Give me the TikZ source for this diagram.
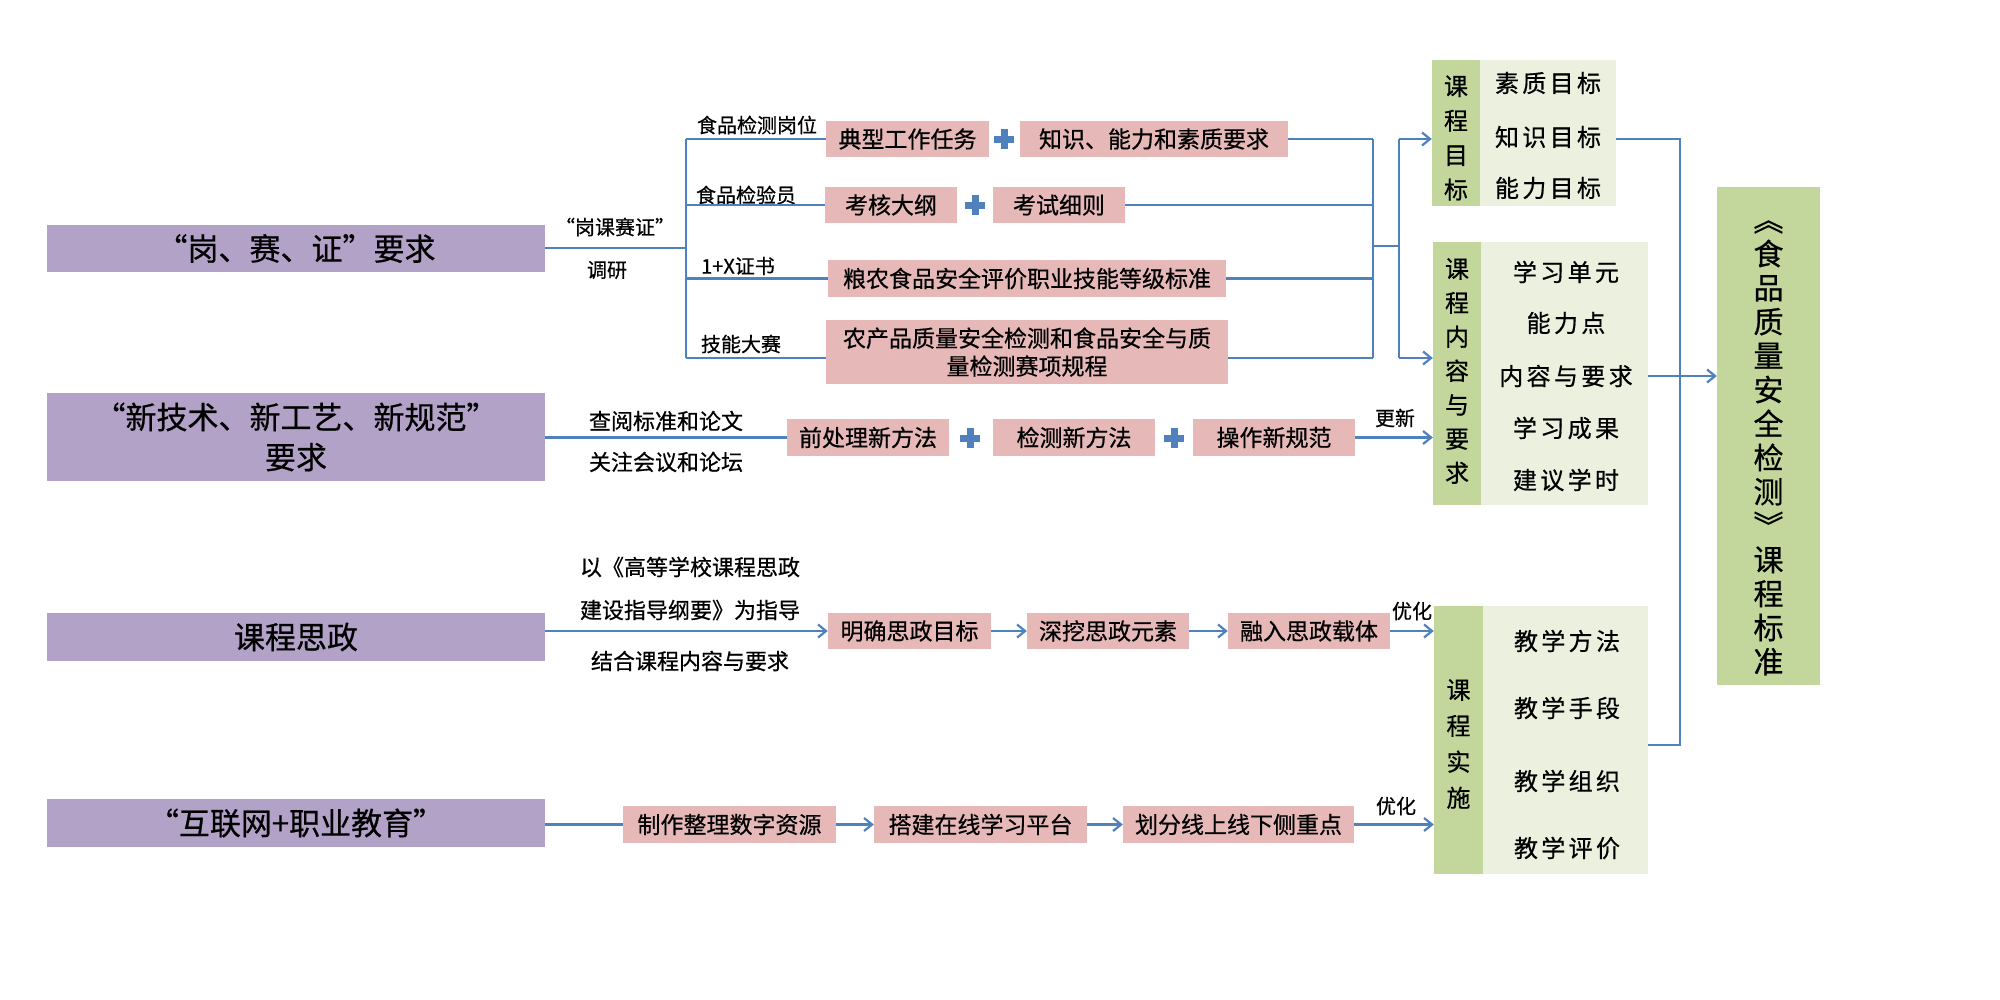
\documentclass[tikz,border=0pt]{standalone}
\usepackage{fontspec}
\usepackage{graphicx}
\newfontfamily\cjk[FakeBold=0.6]{Noto Sans CJK SC}
\newfontfamily\cjkls[LetterSpace=14,FakeBold=0.6]{Noto Sans CJK SC}
\usetikzlibrary{arrows.meta}
\definecolor{purplec}{HTML}{B3A2C7}
\definecolor{pinkc}{HTML}{E6B9B8}
\definecolor{greenc}{HTML}{C3D69B}
\definecolor{lightg}{HTML}{EBF1DE}
\definecolor{lineblue}{HTML}{4F81BD}
\begin{document}
\begin{tikzpicture}[x=1pt,y=-1pt,
 pur/.style={fill=purplec, inner sep=0pt, align=center, minimum width=498pt, font=\cjk\fontsize{31}{40}\selectfont},
 pbox/.style={fill=pinkc, inner sep=0pt, align=center, minimum height=36pt, font=\cjk\fontsize{23}{28}\selectfont},
 gcol/.style={fill=greenc, inner sep=0pt, minimum width=48pt},
 lcol/.style={fill=lightg, inner sep=0pt},
 vtxt/.style={inner sep=0pt, align=center},
 item/.style={font=\cjkls\fontsize{24}{28}\selectfont, inner sep=0pt},
 lab/.style={font=\cjk\fontsize{20}{24}\selectfont, inner sep=0pt},
 labb/.style={font=\cjk\fontsize{22}{26}\selectfont, inner sep=0pt},
 conn/.style={draw=lineblue, line width=2.2pt},
 arr/.style={conn, -{Straight Barb[length=8pt,width=13pt]}},
 pluspic/.pic={\fill[lineblue] (-10,-3.5) rectangle (10,3.5); \fill[lineblue] (-3.5,-10) rectangle (3.5,10);}
]
\fill[white] (0,0) rectangle (2000,999);
\useasboundingbox (0,0) rectangle (2000,999);

% left boxes
\node[pur, minimum height=47pt] (B1) at (296,248.5) {“岗、赛、证”要求};
\node[pur, minimum height=88pt] (B2) at (296,437) {“新技术、新工艺、新规范”\\要求};
\node[pur, minimum height=48pt] (B3) at (296,637) {课程思政};
\node[pur, minimum height=48pt] (B4) at (296,823) {“互联网+职业教育”};

% row 1
\node[lab] (la) at (615,227) {“岗课赛证”};
\node[lab] (lb) at (607,270) {调研};
\node[lab] (l1) at (757,125) {食品检测岗位};
\node[lab] (l2) at (746,195) {食品检验员};
\node[lab] (l3) at (738,266) {1+X证书};
\node[lab] (l4) at (741,344) {技能大赛};

\node[pbox, minimum width=163pt] (T1) at (907.5,139) {典型工作任务};
\node[pbox, minimum width=268pt] (T2) at (1154,139) {知识、能力和素质要求};
\pic at (1004,139) {pluspic};
\node[pbox, minimum width=132pt] (K1) at (891,205) {考核大纲};
\node[pbox, minimum width=132pt] (K2) at (1059,205) {考试细则};
\pic at (975,205) {pluspic};
\node[pbox, minimum width=398pt, minimum height=37pt] (L1) at (1027,278.5) {粮农食品安全评价职业技能等级标准};
\node[pbox, minimum width=402pt, minimum height=64pt] (N1) at (1027,352) {农产品质量安全检测和食品安全与质\\量检测赛项规程};

\coordinate (J0) at (686,248);
\coordinate (Jt) at (686,139);
\coordinate (Jb) at (686,358);
\draw[conn] (B1.east |- J0) -- (J0);
\draw[conn] (Jt) -- (Jb);
\draw[conn] (Jt) -- (T1.west);
\draw[conn] (K1.west -| Jt) -- (K1.west);
\draw[conn] (L1.west -| Jt) -- (L1.west);
\draw[conn] (Jb) -- (Jb -| N1.west);

% right bracket
\coordinate (Rt) at (1373,139);
\coordinate (Rb) at (1373,358);
\coordinate (Rm) at (1373,246);
\coordinate (Qm) at (1399,246);
\coordinate (Qt) at (1399,139);
\coordinate (Qb) at (1399,358);
\draw[conn] (T2.east) -- (Rt);
\draw[conn] (K2.east) -- (K2.east -| Rt);
\draw[conn] (L1.east) -- (L1.east -| Rt);
\draw[conn] (N1.east |- Rb) -- (Rb);
\draw[conn] (Rt) -- (Rb);
\draw[conn] (Rm) -- (Qm);
\draw[conn] (Qt) -- (Qb);

% course goal block
\node[gcol, minimum height=146pt] (G1) at (1456,133) {};
\node[vtxt, font=\cjk\fontsize{24}{34.5}\selectfont] (G1t) at (1456,138) {课\\程\\目\\标};
\node[lcol, minimum width=136pt, minimum height=146pt] (GL1) at (1548,133) {};
\node[item] (g11) at (1548,83) {素质目标};
\node[item] (g12) at (1548,137) {知识目标};
\node[item] (g13) at (1548,188) {能力目标};

% course content block
\node[gcol, minimum height=263pt] (G2) at (1457,373.5) {};
\node[vtxt, font=\cjk\fontsize{24}{34}\selectfont] (G2t) at (1457,371) {课\\程\\内\\容\\与\\要\\求};
\node[lcol, minimum width=167pt, minimum height=263pt] (GL2) at (1564.5,373.5) {};
\node[item] (g21) at (1566,272) {学习单元};
\node[item] (g22) at (1566,323) {能力点};
\node[item] (g23) at (1566,376) {内容与要求};
\node[item] (g24) at (1566,428) {学习成果};
\node[item] (g25) at (1566,480) {建议学时};

% course implementation block
\node[gcol, minimum width=49pt, minimum height=268pt] (G3) at (1458.5,740) {};
\node[vtxt, font=\cjk\fontsize{24}{36}\selectfont] (G3t) at (1458.5,744) {课\\程\\实\\施};
\node[lcol, minimum width=165pt, minimum height=268pt] (GL3) at (1565.5,740) {};
\node[item] (g31) at (1567,641) {教学方法};
\node[item] (g32) at (1567,708) {教学手段};
\node[item] (g33) at (1567,781) {教学组织};
\node[item] (g34) at (1567,848) {教学评价};

% standard box
\node[fill=greenc, inner sep=0pt, minimum width=103pt, minimum height=498pt] (S) at (1768.5,436) {};
\node[vtxt, font=\cjk\fontsize{30}{34}\selectfont] (St) at (1768.5,440) {\rotatebox[origin=c]{-90}{《}\\食\\品\\质\\量\\安\\全\\检\\测\\\rotatebox[origin=c]{-90}{》}\\课\\程\\标\\准};

\draw[arr] (Qt) -- (Qt -| G1.west);
\draw[arr] (Qb) -- (Qb -| G2.west);

% row 2
\node[labb] (m1) at (666,421) {查阅标准和论文};
\node[labb] (m2) at (666,462) {关注会议和论坛};
\node[pbox, minimum width=162pt, minimum height=37pt] (P1) at (868,437.5) {前处理新方法};
\node[pbox, minimum width=162pt, minimum height=37pt] (P2) at (1074,437.5) {检测新方法};
\node[pbox, minimum width=162pt, minimum height=37pt] (P3) at (1274,437.5) {操作新规范};
\pic at (970,438) {pluspic};
\pic at (1174,438) {pluspic};
\node[lab] (u1) at (1395,418) {更新};
\draw[conn] (B2.east |- P1) -- (P1.west);
\draw[arr] (P3.east) -- (P3.east -| G2.west);

% row 3
\node[labb] (s1) at (690,567) {以《高等学校课程思政};
\node[labb] (s2) at (690,610) {建设指导纲要》为指导};
\node[labb] (s3) at (690,661) {结合课程内容与要求};
\node[pbox, minimum width=163pt] (M1) at (909.5,631) {明确思政目标};
\node[pbox, minimum width=162pt] (M2) at (1108,631) {深挖思政元素};
\node[pbox, minimum width=162pt] (M3) at (1309,631) {融入思政载体};
\node[lab] (u2) at (1412,611) {优化};
\draw[arr] (B3.east |- M1) -- (M1.west);
\draw[arr] (M1.east) -- (M2.west);
\draw[arr] (M2.east) -- (M3.west);
\draw[arr] (M3.east) -- (M3.east -| G3.west);

% row 4
\node[pbox, minimum width=213pt, minimum height=37pt] (D1) at (729.5,824.5) {制作整理数字资源};
\node[pbox, minimum width=213pt, minimum height=37pt] (D2) at (980.5,824.5) {搭建在线学习平台};
\node[pbox, minimum width=231pt, minimum height=37pt] (D3) at (1238.5,824.5) {划分线上线下侧重点};
\node[lab] (u3) at (1396,806) {优化};
\draw[conn] (B4.east |- D1) -- (D1.west);
\draw[arr] (D1.east) -- (D2.west);
\draw[arr] (D2.east) -- (D3.west);
\draw[arr] (D3.east) -- (D3.east -| G3.west);

% right collector
\coordinate (Vt) at (1680,139);
\coordinate (Vb) at (1680,745);
\draw[conn] (GL1.east |- Vt) -- (Vt) -- (Vb) -- (Vb -| GL3.east);
\draw[arr] (GL2.east |- g23) -- (g23 -| S.west);
\end{tikzpicture}
\end{document}
